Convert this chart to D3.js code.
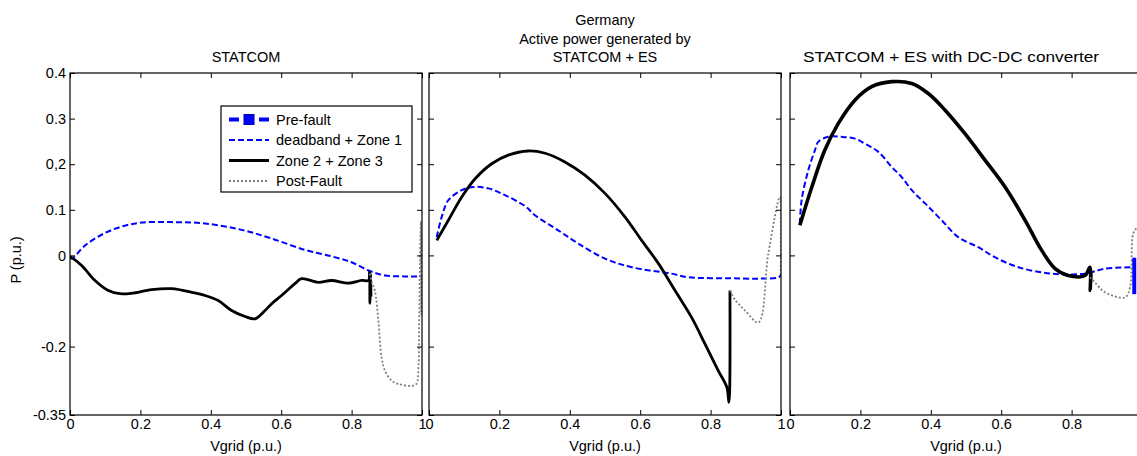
<!DOCTYPE html>
<html>
<head>
<meta charset="utf-8">
<style>
    body { margin: 0; background: #fff; }
    text { font-family: Arial, "Liberation Sans", sans-serif; font-size: 14.5px; fill: #000; }
</style>
</head>
<body>
<svg class="chart"></svg>
<script src="https://cdn.jsdelivr.net/npm/d3@7"></script>
<script>
    // tick labels (left panel writes 0,2 with a comma)
    var xTicks = [0, 0.2, 0.4, 0.6, 0.8, 1],
        xTickLabels = ['0', '0.2', '0.4', '0.6', '0.8', '1'],
        yTicks = [-0.35, -0.2, 0, 0.1, 0.2, 0.3, 0.4],
        yTickLabels = ['-0.35', '-0.2', '0', '0.1', '0,2', '0.3', '0.4'];

    var seriesNames = ['Pre-fault', 'deadband + Zone 1', 'Zone 2 + Zone 3', 'Post-Fault'];

    // [Vgrid, P]
    // STATCOM
    var statcomZone1 = [[0, -0.005], [0.005, -0.007], [0.043, 0.022], [0.099, 0.049], [0.15, 0.064], [0.204, 0.072],
        [0.289, 0.073], [0.384, 0.070], [0.488, 0.056], [0.573, 0.037], [0.668, 0.012], [0.743, -0.002],
        [0.8, -0.015], [0.848, -0.033], [0.895, -0.044], [0.95, -0.046], [0.99, -0.046], [1.0, -0.044]];
    var statcomZone23 = [[0, -0.003], [0.005, -0.005], [0.033, -0.022], [0.071, -0.055], [0.109, -0.077], [0.142, -0.084],
        [0.175, -0.083], [0.232, -0.075], [0.289, -0.073], [0.346, -0.081], [0.384, -0.088], [0.421, -0.099],
        [0.459, -0.121], [0.497, -0.134], [0.526, -0.139], [0.554, -0.121], [0.573, -0.106], [0.601, -0.088],
        [0.639, -0.062], [0.658, -0.051], [0.705, -0.059], [0.743, -0.055], [0.791, -0.061], [0.829, -0.055],
        [0.848, -0.055], [0.851, -0.036], [0.852, -0.105], [0.854, -0.04], [0.855, -0.09]];
    var statcomPost = [[0.852, -0.04], [0.858, -0.06], [0.866, -0.077], [0.876, -0.143], [0.885, -0.223], [0.895, -0.253],
        [0.914, -0.275], [0.933, -0.282], [0.971, -0.286], [0.984, -0.282], [0.99, -0.245], [0.992, -0.147],
        [0.994, -0.018], [0.997, 0.075], [0.998, -0.13], [0.999, 0.05], [1.0, -0.10]];

    // STATCOM + ES
    var esZone1 = [[0.022, 0.040], [0.036, 0.084], [0.055, 0.121], [0.093, 0.143], [0.126, 0.150], [0.169, 0.147],
        [0.216, 0.132], [0.273, 0.108], [0.301, 0.088], [0.367, 0.055], [0.424, 0.026], [0.5, -0.007],
        [0.576, -0.026], [0.689, -0.040], [0.737, -0.048], [0.85, -0.05], [0.936, -0.051], [0.993, -0.048], [1.0, -0.043]];
    var esZone23 = [[0.022, 0.033], [0.055, 0.077], [0.093, 0.128], [0.131, 0.168], [0.178, 0.201], [0.225, 0.220],
        [0.282, 0.229], [0.330, 0.224], [0.386, 0.205], [0.443, 0.176], [0.5, 0.136], [0.557, 0.084],
        [0.604, 0.033], [0.652, -0.018], [0.699, -0.077], [0.746, -0.136], [0.784, -0.194], [0.822, -0.253],
        [0.846, -0.289], [0.852, -0.322], [0.854, -0.30], [0.855, -0.077]];
    var esPost = [[0.855, -0.077], [0.87, -0.098], [0.898, -0.121], [0.936, -0.147], [0.964, 0.004], [0.997, 0.128], [0.999, -0.045]];

    // STATCOM + ES with DC-DC converter
    var dcZone1 = [[0.028, 0.070], [0.033, 0.121], [0.052, 0.187], [0.071, 0.231], [0.08, 0.249], [0.109, 0.260],
        [0.147, 0.260], [0.185, 0.256], [0.213, 0.245], [0.251, 0.227], [0.289, 0.194], [0.317, 0.172],
        [0.346, 0.143], [0.384, 0.114], [0.431, 0.077], [0.478, 0.040], [0.535, 0.018], [0.582, -0.004],
        [0.649, -0.026], [0.743, -0.040], [0.838, -0.040], [0.895, -0.029], [0.971, -0.026]];
    var dcZone23 = [[0.028, 0.066], [0.062, 0.150], [0.099, 0.231], [0.137, 0.289], [0.185, 0.341], [0.232, 0.370],
        [0.289, 0.381], [0.346, 0.377], [0.393, 0.355], [0.44, 0.319], [0.497, 0.267], [0.554, 0.209],
        [0.611, 0.150], [0.668, 0.077], [0.715, 0.011], [0.753, -0.029], [0.79, -0.044], [0.838, -0.044],
        [0.852, -0.026], [0.853, -0.077], [0.855, -0.04]];
    var dcPost = [[0.852, -0.048], [0.866, -0.059], [0.895, -0.081], [0.952, -0.092], [0.966, -0.070], [0.975, 0.048], [0.985, 0.06]];
    var dcPre = [[0.978, -0.005], [0.978, -0.085]];

    var panels = [
        {title: ['STATCOM'], left: 70, zone1: statcomZone1, zone23: statcomZone23, post: statcomPost, pre: [], legend: true},
        {title: ['Germany', 'Active power generated by', 'STATCOM + ES'], left: 429, zone1: esZone1, zone23: esZone23, post: esPost, pre: []},
        {title: ['STATCOM + ES with DC-DC converter'], left: 790, zone1: dcZone1, zone23: dcZone23, post: dcPost, pre: dcPre,
            blackWidth: 3.6, titleX: 951, titleLen: 296, hideLast: true}
    ];

    var width = 1137, height = 456,
        panelW = 352, plotTop = 73, plotBottom = 415;

    var styles = {
        pre: {stroke: '#0000ff', width: 4, dash: '9,5'},
        zone1: {stroke: '#0000ff', width: 2, dash: '6,3'},
        zone23: {stroke: '#000000', width: 2.8, dash: null},
        post: {stroke: '#808080', width: 1.8, dash: '2,2'}
    };

    var svg = d3.select('.chart')
        .attr('width', width)
        .attr('height', height);

    var y = d3.scaleLinear().domain([-0.35, 0.4]).range([plotBottom, plotTop]);

    panels.forEach(function (p, i) {
        var x = d3.scaleLinear().domain([0, 1]).range([p.left, p.left + panelW]);
        var g = svg.append('g').attr('class', 'panel');

        g.append('clipPath').attr('id', 'clip' + i)
            .append('rect')
            .attr('x', p.left).attr('y', plotTop)
            .attr('width', panelW).attr('height', plotBottom - plotTop);

        var line = d3.line()
            .curve(d3.curveCatmullRom.alpha(0.5))
            .x(function (d) { return x(d[0]); })
            .y(function (d) { return y(d[1]); });

        var plot = g.append('g').attr('clip-path', 'url(#clip' + i + ')');
        ['zone1', 'zone23', 'post', 'pre'].forEach(function (k) {
            if (!p[k].length) return;
            var s = styles[k];
            plot.append('path')
                .datum(p[k])
                .attr('d', line)
                .attr('fill', 'none')
                .attr('stroke', s.stroke)
                .attr('stroke-width', k == 'zone23' && p.blackWidth ? p.blackWidth : s.width)
                .attr('stroke-dasharray', k == 'pre' ? null : s.dash)
                .attr('stroke-linejoin', 'round');
        });

        // axes, ticks pointing inwards on every side
        g.append('g')
            .attr('transform', 'translate(0,' + plotBottom + ')')
            .call(d3.axisBottom(x).tickValues(xTicks).tickSize(-5).tickSizeOuter(0).tickPadding(4)
                .tickFormat(function (d, j) { return (p.hideLast && j == xTicks.length - 1) ? '' : xTickLabels[j]; }));
        g.append('g')
            .attr('transform', 'translate(0,' + plotTop + ')')
            .call(d3.axisTop(x).tickValues(xTicks).tickSize(-5).tickSizeOuter(0).tickFormat(''));
        var yAxis = d3.axisLeft(y).tickValues(yTicks).tickSize(-5).tickSizeOuter(0).tickPadding(4);
        if (i == 0) yAxis.tickFormat(function (d, j) { return yTickLabels[j]; });
        else yAxis.tickFormat('');
        g.append('g')
            .attr('transform', 'translate(' + p.left + ',0)')
            .call(yAxis);
        g.append('g')
            .attr('transform', 'translate(' + (p.left + panelW) + ',0)')
            .call(d3.axisRight(y).tickValues(yTicks).tickSize(-5).tickSizeOuter(0).tickFormat(''));

        g.selectAll('.domain').remove();
        g.selectAll('.tick line').attr('stroke', '#000');
        g.selectAll('.tick text').attr('font-size', 14.5).attr('font-family', 'Arial, "Liberation Sans", sans-serif');

        g.append('rect')
            .attr('x', p.left).attr('y', plotTop)
            .attr('width', panelW).attr('height', plotBottom - plotTop)
            .attr('fill', 'none').attr('stroke', '#000').attr('stroke-width', 1.2);

        // titles
        var lines = p.title.length;
        p.title.forEach(function (t, j) {
            var tt = g.append('text')
                .attr('x', p.titleX || (p.left + panelW / 2))
                .attr('y', 62 - (lines - 1 - j) * 18.5)
                .attr('text-anchor', 'middle')
                .text(t);
            if (p.titleLen) tt.attr('textLength', p.titleLen).attr('lengthAdjust', 'spacingAndGlyphs');
        });

        g.append('text')
            .attr('x', p.left + panelW / 2)
            .attr('y', 451)
            .attr('text-anchor', 'middle')
            .text('Vgrid (p.u.)');

        if (p.legend) {
            var lg = g.append('g').attr('transform', 'translate(221,106)');
            lg.append('rect').attr('width', 191).attr('height', 86)
                .attr('fill', '#fff').attr('stroke', '#000').attr('stroke-width', 1.2);
            var keys = ['pre', 'zone1', 'zone23', 'post'];
            keys.forEach(function (k, j) {
                var s = styles[k], yy = 13.5 + j * 20.5;
                lg.append('line')
                    .attr('x1', 8).attr('x2', 48)
                    .attr('y1', yy).attr('y2', yy)
                    .attr('stroke', s.stroke)
                    .attr('stroke-width', s.width)
                    .attr('stroke-dasharray', k == 'pre' ? '10,5' : s.dash);
                if (k == 'pre') {
                    lg.append('rect')
                        .attr('x', 23).attr('y', yy - 5)
                        .attr('width', 10).attr('height', 10)
                        .attr('fill', '#0000ff').attr('stroke', '#0000aa');
                }
                lg.append('text')
                    .attr('x', 55).attr('y', yy + 5)
                    .text(seriesNames[j]);
            });
        }
    });

    svg.append('text')
        .attr('transform', 'translate(21,' + y(-0.01) + ') rotate(-90)')
        .attr('text-anchor', 'middle')
        .text('P (p.u.)');
</script>
</body>
</html>
